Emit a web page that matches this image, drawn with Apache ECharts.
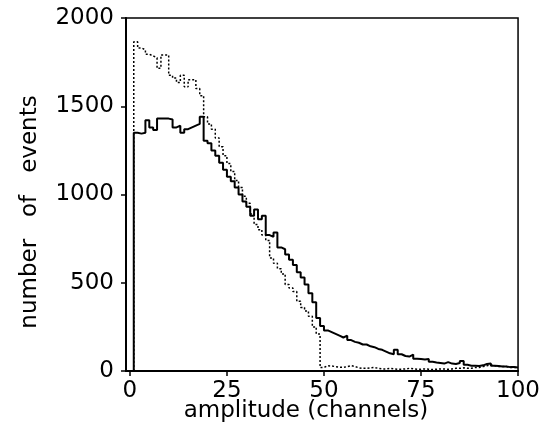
<!DOCTYPE html>
<html>
<head>
<meta charset="utf-8">
<script src="https://cdn.jsdelivr.net/npm/echarts@6/dist/echarts.min.js"></script>
<style>
html,body{margin:0;padding:0;background:#fff;}
#c{width:543px;height:441px;}
</style>
</head>
<body>
<div id="c"></div>
<script>
// bin left edges (channels)
const channels = Array.from({length: 100}, (_, i) => i);
// solid histogram, channels 0..99
const solidCounts = [
  0, 1350, 1345, 1350, 1420, 1380, 1365, 1430, 1430, 1430,
  1425, 1380, 1390, 1350, 1370, 1380, 1390, 1400, 1440, 1305,
  1290, 1250, 1220, 1180, 1140, 1100, 1075, 1040, 1000, 960,
  930, 880, 915, 860, 880, 770, 760, 785, 700, 690,
  660, 630, 600, 560, 530, 490, 440, 390, 300, 255,
  230, 220, 210, 200, 190, 200, 175, 165, 160, 150,
  150, 140, 135, 125, 120, 110, 100, 95, 120, 95,
  85, 82, 93, 70, 68, 65, 68, 52, 48, 45,
  42, 50, 42, 40, 45, 57, 35, 30, 30, 28,
  32, 40, 42, 30, 28, 25, 25, 22, 22, 20
];
// dotted histogram, channels 0..99
const dottedCounts = [
  0, 1865, 1830, 1820, 1795, 1785, 1775, 1715, 1790, 1790,
  1675, 1660, 1635, 1675, 1610, 1650, 1650, 1600, 1560, 1440,
  1400, 1370, 1320, 1270, 1220, 1175, 1130, 1080, 1040, 990,
  950, 890, 830, 800, 770, 740, 640, 610, 580, 550,
  490, 470, 450, 395, 360, 340, 310, 250, 210, 20,
  30, 28, 25, 22, 20, 25, 30, 25, 18, 15,
  15, 18, 20, 15, 12, 12, 15, 12, 10, 10,
  12, 15, 12, 10, 10, 12, 10, 8, 10, 12,
  12, 10, 12, 15, 15, 18, 15, 15, 20, 20,
  25, 30, 35, 30, 25, 25, 25, 20, 20, 20
];
const xTicks = [0, 25, 50, 75, 100];
const yTicks = [0, 500, 1000, 1500, 2000];
const xTitle = 'amplitude (channels)';
const yTitle = 'number   of   events';

function stepData(vals) {
  const d = channels.map((c, i) => [c, vals[i]]);
  d.push([channels[channels.length - 1] + 1, vals[vals.length - 1]]);
  return d;
}

const FONT = 'DejaVu Sans';
const FS = 23;
const chart = echarts.init(document.getElementById('c'), null, {renderer: 'canvas'});
chart.setOption({
  backgroundColor: '#fff',
  animation: false,
  grid: {left: 126, right: 22, top: 18, bottom: 70, show: true, borderColor: '#000', borderWidth: 1.5, containLabel: false},
  xAxis: {
    type: 'value', min: -1, max: 100,
    axisLine: {show: true, onZero: false, lineStyle: {color: '#000', width: 2}},
    axisTick: {show: true, inside: false, length: 5, customValues: xTicks, lineStyle: {color: '#000', width: 1.5}},
    axisLabel: {show: true, customValues: xTicks, margin: 9, color: '#000', fontFamily: FONT, fontSize: FS, formatter: v => String(v)},
    splitLine: {show: false}
  },
  yAxis: {
    type: 'value', min: 0, max: 2000,
    axisLine: {show: true, onZero: false, lineStyle: {color: '#000', width: 2}},
    axisTick: {show: true, inside: false, length: 5, customValues: yTicks, lineStyle: {color: '#000', width: 1.5}},
    axisLabel: {show: true, customValues: yTicks, margin: 12, color: '#000', fontFamily: FONT, fontSize: FS, formatter: v => String(v)},
    splitLine: {show: false}
  },
  graphic: [
    {type: 'text', position: [306, 411], style: {text: xTitle, align: 'center', verticalAlign: 'middle', fill: '#000', font: FS + 'px "DejaVu Sans"'}},
    {type: 'text', position: [30, 212], rotation: Math.PI / 2, style: {text: yTitle, align: 'center', verticalAlign: 'middle', fill: '#000', font: FS + 'px "DejaVu Sans"'}}
  ],
  series: [
    {
      type: 'line', step: 'end', showSymbol: false, symbol: 'none',
      data: stepData(dottedCounts),
      lineStyle: {color: '#000', width: 1.5, type: [2, 2]}
    },
    {
      type: 'line', step: 'end', showSymbol: false, symbol: 'none',
      data: stepData(solidCounts),
      lineStyle: {color: '#000', width: 2}
    }
  ]
});
</script>
</body>
</html>
